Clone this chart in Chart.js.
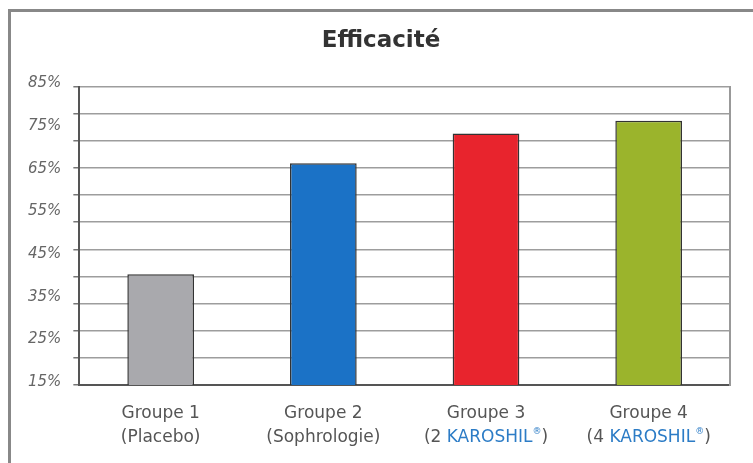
<!DOCTYPE html>
<html>
<head>
<meta charset="utf-8">
<script src="https://cdn.jsdelivr.net/npm/chart.js@4.4.1/dist/chart.umd.min.js"></script>
<style>
  html, body { margin: 0; padding: 0; background: #fff; }
  canvas { display: block; }
</style>
</head>
<body>
<canvas id="graf" width="753" height="463"></canvas>
<script>
// données
const groupes = ["Groupe 1", "Groupe 2", "Groupe 3", "Groupe 4"];
const sousTitres = ["(Placebo)", "(Sophrologie)", "(2 KAROSHIL®)", "(4 KAROSHIL®)"];
const efficacite = [41, 67, 74, 77];
const couleurs = ["#a9a9ad", "#1b72c6", "#e8242d", "#9bb42c"];
const yMin = 15, yMax = 85, yPas = 10;
const nbLignes = 11; // lignes de grille (pas alignées sur les %)

const marque = "KAROSHIL®";
const gris = "#555";
const bleu = "#2c7cc6";

// cadre extérieur
const cadre = {
  id: "cadre",
  beforeDraw(chart) {
    const ctx = chart.ctx;
    ctx.save();
    ctx.fillStyle = "#fff";
    ctx.fillRect(0, 0, chart.width, chart.height);
    ctx.fillStyle = "#888";
    ctx.fillRect(8, 9, chart.width - 8, 3);
    ctx.fillRect(8, 9, 3, chart.height - 9);
    ctx.restore();
  }
};

function morceaux(txt) {
  if (!txt.includes(marque)) return [{ t: txt, c: gris }];
  const [a, b] = txt.split(marque);
  return [
    { t: a, c: gris },
    { t: "KAROSHIL", c: bleu },
    { t: "®", c: bleu, sup: true },
    { t: b, c: gris }
  ];
}

function ecrireCentre(ctx, parts, cx, y) {
  const fN = '17px "DejaVu Sans"', fS = '9px "DejaVu Sans"';
  let w = 0;
  parts.forEach(p => { ctx.font = p.sup ? fS : fN; w += ctx.measureText(p.t).width; });
  let x = cx - w / 2;
  parts.forEach(p => {
    ctx.font = p.sup ? fS : fN;
    ctx.fillStyle = p.c;
    ctx.fillText(p.t, x, p.sup ? y - 6 : y);
    x += ctx.measureText(p.t).width;
  });
}

// étiquettes de l'axe X (deux lignes, marque en bleu)
const etiquettesX = {
  id: "etiquettesX",
  afterDraw(chart) {
    const ctx = chart.ctx;
    const sx = chart.scales.x;
    const bas = chart.chartArea.bottom;
    ctx.save();
    ctx.textAlign = "left";
    ctx.textBaseline = "middle";
    groupes.forEach((g, i) => {
      const cx = sx.getPixelForValue(i);
      ecrireCentre(ctx, morceaux(g), cx, bas + 29);
      ecrireCentre(ctx, morceaux(sousTitres[i]), cx, bas + 53);
    });
    ctx.restore();
  }
};

new Chart(document.getElementById("graf"), {
  type: "bar",
  data: {
    labels: groupes,
    datasets: [{
      data: efficacite,
      backgroundColor: couleurs,
      borderColor: "#333",
      borderWidth: 1.5,
      borderSkipped: false,
      barPercentage: 0.41,
      categoryPercentage: 1,
      yAxisID: "y"
    }]
  },
  options: {
    responsive: false,
    animation: false,
    layout: { padding: { top: 10, left: 24, right: 15, bottom: 70 } },
    plugins: {
      legend: { display: false },
      tooltip: { enabled: false },
      title: {
        display: true,
        text: "Efficacité",
        color: "#333",
        font: { family: '"DejaVu Sans"', size: 23, weight: "bold" },
        padding: { top: 17, bottom: 32 }
      }
    },
    scales: {
      x: {
        grid: { display: false },
        border: { color: "#555", width: 2 },
        ticks: { display: false }
      },
      y: {
        position: "left",
        weight: 1,
        min: yMin,
        max: yMax,
        grid: { display: false },
        border: { display: false },
        ticks: {
          stepSize: yPas,
          color: "#666",
          padding: 4,
          labelOffset: -3,
          font: { family: '"DejaVu Sans"', size: 15, style: "italic" },
          callback: v => v + "%"
        }
      },
      lignes: {
        position: "left",
        weight: 0,
        min: 0,
        max: nbLignes,
        ticks: { display: false, stepSize: 1 },
        grid: { color: "#9d9d9d", lineWidth: 1.5, drawTicks: true, tickLength: 6, tickColor: "#777" },
        border: { color: "#555", width: 2 }
      },
      droite: {
        position: "right",
        min: 0,
        max: 1,
        ticks: { display: false },
        grid: { display: false },
        border: { color: "#999", width: 2 }
      }
    }
  },
  plugins: [cadre, etiquettesX]
});
</script>
</body>
</html>
